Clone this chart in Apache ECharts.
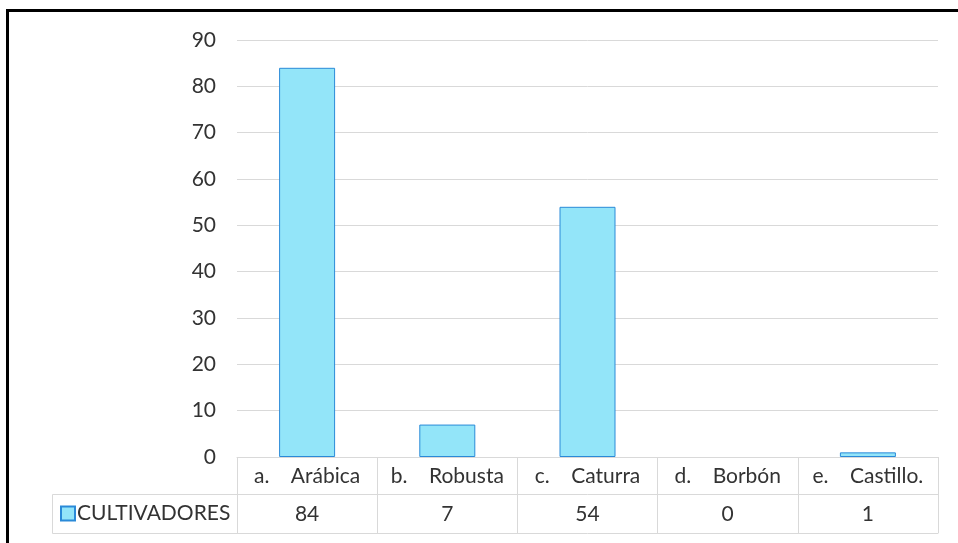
<!DOCTYPE html>
<html>
<head>
<meta charset="utf-8">
<script src="https://cdn.jsdelivr.net/npm/echarts@6/dist/echarts.min.js"></script>
<style>
  html, body { margin: 0; padding: 0; background: #fff; }
  #chart { width: 958px; height: 543px; }
</style>
</head>
<body>
<div id="chart"></div>
<script>
// Coffee varieties grown, with a data table under the category axis
const categories = ['a.    Arábica', 'b.    Robusta', 'c.    Caturra', 'd.    Borbón', 'e.    Castillo.'];
const seriesName = 'CULTIVADORES';
const growers = [84, 7, 54, 0, 1];
const yTicks = { min: 0, max: 90, interval: 10 };

const FONT = 'Lato, "Open Sans", sans-serif';
const FS = 21;
const TEXT = '#333333';
const LINE = '#d9d9d9';
const FILL = '#93e5f9';
const EDGE = '#2a8ad8';

const chart = echarts.init(document.getElementById('chart'));

const gridLeft = 237, gridRight = 20, gridTop = 40, gridBottom = 86;
const headRow = 37;   // height of the category row of the table
const tableH = 76;    // full table height below the plot

// an empty bar gets no outline
const barData = growers.map(v => ({ value: v, itemStyle: v === 0 ? { borderWidth: 0 } : {} }));

chart.setOption({
  animation: false,
  backgroundColor: '#fff',
  textStyle: { fontFamily: FONT },
  grid: { left: gridLeft, right: gridRight, top: gridTop, bottom: gridBottom, containLabel: false },
  legend: {
    data: [seriesName],
    left: 55, top: 498,
    icon: 'rect', itemWidth: 14, itemHeight: 14, itemGap: 0,
    textStyle: { fontFamily: FONT, fontSize: FS, color: TEXT, padding: [2, 0, 0, -3] }
  },
  xAxis: [
    {
      type: 'category', data: categories, position: 'bottom',
      axisLine: { show: true, lineStyle: { color: LINE, width: 1 } },
      axisTick: { show: true, length: tableH, interval: 0, lineStyle: { color: LINE } },
      axisLabel: { interval: 0, margin: 9, fontSize: FS, color: TEXT, fontFamily: FONT },
      splitLine: { show: false }
    },
    {
      type: 'category', data: growers.map(String), position: 'bottom', offset: headRow,
      axisLine: { show: true, lineStyle: { color: LINE, width: 1 } },
      axisTick: { show: false },
      axisLabel: { interval: 0, margin: 10, fontSize: FS, color: TEXT, fontFamily: FONT }
    },
    {
      type: 'category', data: categories, position: 'bottom', offset: tableH,
      axisLine: { show: true, lineStyle: { color: LINE, width: 1 } },
      axisTick: { show: false },
      axisLabel: { show: false }
    }
  ],
  yAxis: {
    type: 'value', min: yTicks.min, max: yTicks.max, interval: yTicks.interval,
    axisLine: { show: false }, axisTick: { show: false },
    axisLabel: { margin: 21, fontSize: FS, color: TEXT, fontFamily: FONT },
    splitLine: { lineStyle: { color: LINE, width: 1 } }
  },
  series: [{
    name: seriesName, type: 'bar', data: barData, xAxisIndex: 0,
    barWidth: 56,
    itemStyle: { color: FILL, borderColor: EDGE, borderWidth: 1 }
  }],
  graphic: [
    // legend cell of the data table
    { type: 'polyline', shape: { points: [[gridLeft, 457 + headRow + 0.5], [52.5, 457 + headRow + 0.5], [52.5, 457 + tableH + 0.5], [gridLeft, 457 + tableH + 0.5]] },
      style: { stroke: LINE, fill: null, lineWidth: 1 } },
    // outer frame
    { type: 'polyline', shape: { points: [[7.5, 543], [7.5, 10.5], [958, 10.5]] },
      style: { stroke: '#000', fill: null, lineWidth: 3 } }
  ]
});
</script>
</body>
</html>
